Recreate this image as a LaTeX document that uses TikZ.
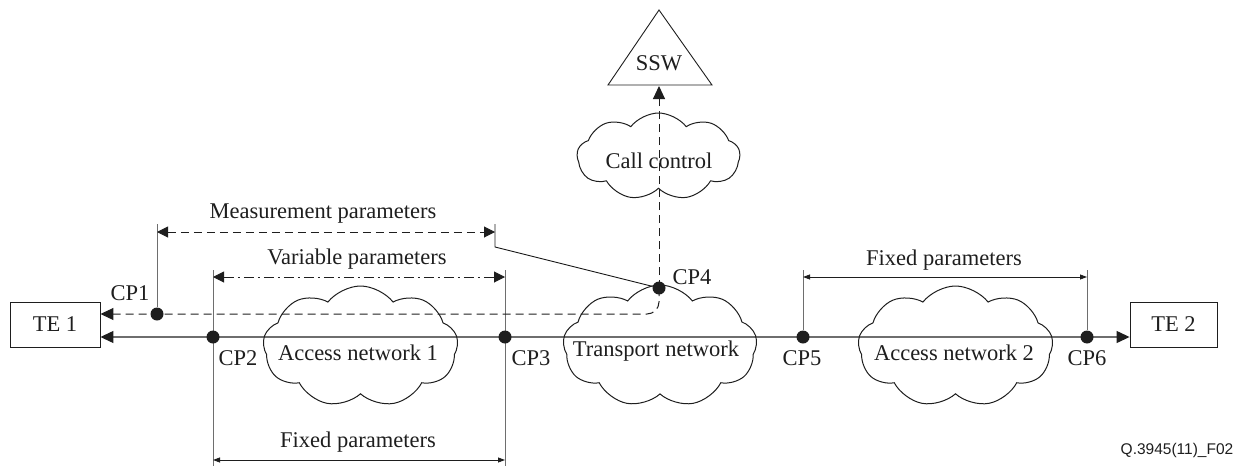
\documentclass[tikz,border=0pt]{standalone}
\usepackage{fontspec}
\setmainfont{Liberation Serif}
\usetikzlibrary{arrows.meta,shapes.symbols,backgrounds}
\definecolor{lgray}{RGB}{110,110,110}
\definecolor{dk}{RGB}{30,30,30}
\begin{document}
\begin{tikzpicture}[x=1pt,y=-1pt,
  lbl/.style={font=\fontsize{22.5}{26}\selectfont, inner sep=0, text=dk},
  tebox/.style={draw=dk, line width=0.9pt, minimum width=#1, minimum height=45pt, inner sep=0, font=\fontsize{22.5}{26}\selectfont, text=dk},
  netcloud/.style={cloud, draw=dk, line width=1pt, cloud puffs=9, cloud puff arc=105, cloud ignores aspect, inner sep=0},
  cpdot/.style={circle, fill=dk, inner sep=0, minimum size=13pt},
  gline/.style={draw=lgray, line width=1.3pt},
  vline/.style={draw=lgray, line width=1pt},
  dsh/.style={draw=dk, line width=1pt, dash pattern=on 8pt off 5pt},
  dshdot/.style={draw=dk, line width=1pt, dash pattern=on 10pt off 4pt on 2pt off 4pt},
  bigtip/.style={-{Triangle[length=13pt,width=12pt,dk]}},
  midtips/.style={{Triangle[length=11pt,width=11pt,dk]}-{Triangle[length=11pt,width=11pt,dk]}},
  smalltips/.style={{Triangle[length=7pt,width=5pt,dk]}-{Triangle[length=7pt,width=5pt,dk]}},
]
\useasboundingbox (0,0) rectangle (1240,466);

% terminals
\node[tebox=90pt] (te1) at (55,324.5) {TE 1};
\node[tebox=87pt] (te2) at (1173.5,324.5) {TE 2};

% SSW triangle
\coordinate (sswl) at (608,85);
\coordinate (sswt) at (659,10);
\coordinate (sswr) at (712,85);
\coordinate (sswb) at (659,86);
\draw[dk, line width=0.9pt] (sswl) -- (sswt) -- (sswr) -- cycle;
\node[lbl] (ssw) at (659,63) {SSW};

% clouds
\node[netcloud, minimum width=163pt, minimum height=87pt] (cc) at (658.5,156.5) {};
\node[lbl] (cctxt) at (659,161) {Call control};
\node[netcloud, minimum width=195pt, minimum height=121pt] (an1) at (360.5,346.5) {};
\node[lbl] (an1txt) at (358,353) {Access network 1};
\node[netcloud, minimum width=194pt, minimum height=122pt] (tn) at (660,346) {};
\node[lbl] (tntxt) at (656,351) {Transport network};
\node[netcloud, minimum width=195pt, minimum height=121pt] (an2) at (955.5,346.5) {};
\node[lbl] (an2txt) at (954,353) {Access network 2};

% control points
\node[cpdot] (cp1) at (157,314) {};
\node[cpdot] (cp2) at (213,337) {};
\node[cpdot] (cp3) at (505,337) {};
\node[cpdot] (cp4) at (659,288) {};
\node[cpdot] (cp5) at (803,337) {};
\node[cpdot] (cp6) at (1087,337) {};

\node[lbl] (cp1l) at (130,293) {CP1};
\node[lbl] (cp2l) at (238,358) {CP2};
\node[lbl] (cp3l) at (531,358) {CP3};
\node[lbl] (cp4l) at (692,277) {CP4};
\node[lbl] (cp5l) at (802,358) {CP5};
\node[lbl] (cp6l) at (1087,358) {CP6};

% helper coordinates
\coordinate (m1) at (157,224);
\coordinate (ma) at (157,232);
\coordinate (mb) at (495,232);
\coordinate (m2) at (495,224);
\coordinate (m3) at (495,247);
\coordinate (v2t) at (213,270);
\coordinate (v2b) at (213,466);
\coordinate (v3t) at (505,270);
\coordinate (v3b) at (505,466);
\coordinate (va) at (213,277);
\coordinate (vb) at (505,277);
\coordinate (fc) at (213,460);
\coordinate (fd) at (505,460);
\coordinate (v5t) at (803,270);
\coordinate (v6t) at (1087,270);
\coordinate (fa) at (803,277);
\coordinate (fb) at (1087,277);

\begin{scope}[on background layer]
% main transport line
\draw[gline, {Triangle[length=13pt,width=12pt,dk]}-{Triangle[length=13pt,width=12pt,dk]}] (te1.east |- cp2) -- (te2.west |- cp2);

% vertical reference lines
\draw[vline] (m1) -- (cp1);
\draw[vline] (v2t) -- (v2b);
\draw[vline] (v3t) -- (v3b);
\draw[vline] (v5t) -- (cp5);
\draw[vline] (v6t) -- (cp6);
\draw[draw=dk, line width=0.9pt] (m2) -- (m3) -- (cp4);

% measurement path
\draw[dsh, rounded corners=12pt, bigtip] (cp4.center) -- (cp4.center |- cp1) -- (te1.east |- cp1);
\draw[dsh, bigtip] (cp4.center) -- (sswb);
\end{scope}

% parameter spans
\draw[dsh, midtips] (ma) -- (mb);
\node[lbl] (mlbl) at (323,214) {Measurement parameters};
\draw[dshdot, midtips] (va) -- (vb);
\node[lbl] (vlbl) at (357,259) {Variable parameters};
\draw[draw=dk, line width=0.8pt, smalltips] (fa) -- (fb);
\node[lbl] (f1lbl) at (944,260) {Fixed parameters};
\draw[draw=dk, line width=0.8pt, smalltips] (fc) -- (fd);
\node[lbl] (f2lbl) at (358,442) {Fixed parameters};

% figure id
\node[font=\fontspec{Liberation Sans}\fontsize{15.5}{18}\selectfont, inner sep=0, text=dk] (fid) at (1177,450) {Q.3945(11)\_F02};
\end{tikzpicture}
\end{document}
